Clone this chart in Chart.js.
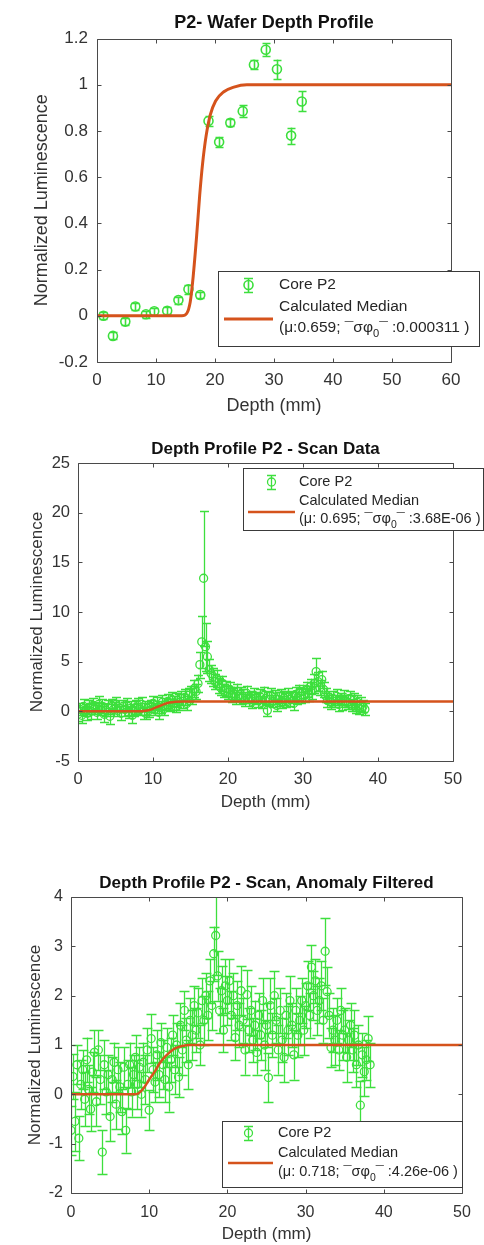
<!DOCTYPE html>
<html>
<head>
<meta charset="utf-8">
<script src="https://cdn.jsdelivr.net/npm/chart.js@4.4.1/dist/chart.umd.min.js"></script>
<style>
html,body{margin:0;padding:0;background:#fff;}
#wrap{position:relative;width:484px;height:1245px;overflow:hidden;background:#fff;}
canvas{position:absolute;left:0;}
</style>
</head>
<body>
<div id="wrap">
<canvas id="c1" width="484" height="420" style="top:0px"></canvas>
<canvas id="c2" width="484" height="400" style="top:420px"></canvas>
<canvas id="c3" width="484" height="425" style="top:820px"></canvas>
</div>
<script>
// ===== DATA: wafer profile (panel 1) =====
const DEPTH_WAFER = [1.1, 2.7, 4.8, 6.5, 8.3, 9.7, 11.9, 13.8, 15.5, 17.5, 18.9, 20.7, 22.6, 24.7, 26.6, 28.6, 30.5, 32.9, 34.7];
const LUM_WAFER   = [0.0, -0.087, -0.025, 0.04, 0.007, 0.02, 0.022, 0.068, 0.115, 0.09, 0.843, 0.752, 0.836, 0.886, 1.087, 1.152, 1.067, 0.78, 0.928];
const ERR_WAFER   = [0.015, 0.015, 0.015, 0.015, 0.015, 0.015, 0.015, 0.015, 0.02, 0.015, 0.02, 0.02, 0.015, 0.025, 0.02, 0.028, 0.042, 0.035, 0.043];
const FIT_X_WAFER = [0, 14.4, 15.2, 15.8, 16.3, 16.9, 17.4, 17.9, 18.5, 19.2, 20.1, 21.5, 23.2, 25.4, 28, 60];
const FIT_Y_WAFER = [0, 0, 0.01, 0.06, 0.17, 0.35, 0.52, 0.66, 0.78, 0.87, 0.93, 0.97, 0.99, 1.0, 1.0, 1.0];

// ===== DATA: scan depths (panels 2 and 3) =====
const DEPTH_SCAN = [0,0.25,0.5,0.75, 1,1.25,1.5,1.75, 2,2.25,2.5,2.75, 3,3.25,3.5,3.75, 4,4.25,4.5,4.75,
  5,5.25,5.5,5.75, 6,6.25,6.5,6.75, 7,7.25,7.5,7.75, 8,8.25,8.5,8.75, 9,9.25,9.5,9.75,
  10,10.25,10.5,10.75, 11,11.25,11.5,11.75, 12,12.25,12.5,12.75, 13,13.25,13.5,13.75, 14,14.25,14.5,14.75,
  15,15.25,15.5,15.75, 16,16.25,16.5,16.75, 17,17.25,17.5,17.75, 18,18.25,18.5,18.75, 19,19.25,19.5,19.75,
  20,20.25,20.5,20.75, 21,21.25,21.5,21.75, 22,22.25,22.5,22.75, 23,23.25,23.5,23.75, 24,24.25,24.5,24.75,
  25,25.25,25.5,25.75, 26,26.25,26.5,26.75, 27,27.25,27.5,27.75, 28,28.25,28.5,28.75, 29,29.25,29.5,29.75,
  30,30.25,30.5,30.75, 31,31.25,31.5,31.75, 32,32.25,32.5,32.75, 33,33.25,33.5,33.75, 34,34.25,34.5,34.75,
  35,35.25,35.5,35.75, 36,36.25,36.5,36.75, 37,37.25,37.5,37.75, 38,38.25];

// ===== DATA: scan data (panel 2) =====
const LUM_SCAN = [-0.3,0.2,-0.4,0.5, 0.1,-0.2,0.4,0.0, 0.6,0.3,-0.1,0.7, 0.2,0.5,-0.3,0.1, 0.4,-0.5,0.6,0.2,
  0.7,0.1,0.3,-0.2, 0.5,0.2,0.6,-0.1, 0.3,-0.4,0.1,0.4, 0.6,0.2,0.7,0.0, -0.2,0.3,0.1,0.5,
  0.8,0.2,0.6,-0.1, 0.4,0.9,0.3,0.7, 1.0,0.6,1.2,0.8, 0.5,1.1,0.9,1.3, 1.0,1.4,0.8,1.6,
  1.9,1.5,2.3,2.0, 2.8,4.7,7.0,13.4, 6.5,5.5,4.2,3.8, 3.5,3.0,3.3,2.6, 2.4,2.8,2.1,2.3,
  1.9,2.2,1.6,1.8, 1.4,2.0,1.3,1.7, 1.5,1.1,1.8,1.2, 1.4,1.0,1.6,1.3, 1.1,1.5,0.9,1.7,
  1.3,0.1,1.2,1.6, 1.0,1.4,0.6,1.2, 1.5,0.9,1.3,1.1, 1.6,1.2,1.4,0.8, 1.7,1.3,1.9,1.5,
  2.0,1.6,2.2,1.8, 2.5,2.1,2.8,4.0, 3.0,2.4,3.2,2.2, 1.6,1.1,1.4,0.9, 1.3,1.0,1.5,0.7,
  1.2,0.8,1.4,1.0, 0.9,1.3,0.6,1.1, 0.4,0.9,0.3,0.7, 0.5,0.2];
const ERR_SCAN = [0.7,0.6,0.8,0.7, 0.6,0.7,0.7,0.8, 0.7,0.6,0.7,0.8, 0.6,0.7,0.8,0.6, 0.7,0.8,0.6,0.7,
  0.7,0.6,0.8,0.7, 0.6,0.7,0.7,0.6, 0.7,0.8,0.6,0.7, 0.7,0.6,0.7,0.8, 0.6,0.7,0.7,0.6,
  0.7,0.6,0.8,0.7, 0.6,0.7,0.7,0.6, 0.7,0.6,0.7,0.7, 0.6,0.7,0.8,0.7, 0.7,0.8,0.7,0.7,
  0.7,0.8,0.9,0.8, 0.9,1.3,2.6,6.8, 2.4,1.6,1.1,0.9, 0.9,0.8,0.9,0.8, 0.8,0.8,0.7,0.8,
  0.7,0.8,0.7,0.7, 0.7,0.8,0.6,0.7, 0.7,0.6,0.8,0.7, 0.6,0.7,0.7,0.6, 0.7,0.7,0.6,0.8,
  0.7,0.6,0.7,0.7, 0.6,0.7,0.6,0.7, 0.7,0.6,0.7,0.7, 0.7,0.7,0.6,0.7, 0.7,0.6,0.8,0.7,
  0.7,0.7,0.8,0.8, 0.8,0.9,1.0,1.4, 1.0,0.8,0.9,0.8, 0.7,0.7,0.6,0.7, 0.7,0.6,0.7,0.7,
  0.6,0.7,0.7,0.6, 0.7,0.7,0.6,0.7, 0.6,0.7,0.6,0.7, 0.6,0.6];
const FIT_X_SCAN = [0, 8.3, 9.0, 9.8, 10.6, 11.4, 12.2, 13.0, 14.0, 50];
const FIT_Y_SCAN = [0, 0, 0.05, 0.2, 0.45, 0.7, 0.88, 0.97, 1.0, 1.0];

// ===== DATA: anomaly filtered (panel 3) =====
const LUM_FILT = [-0.73,0.36,-0.55,0.6, -0.89,0.2,0.5,-0.1, 0.7,0.1,-0.3,0.45, 0.85,-0.15,0.9,0.3, -1.17,0.6,0.05,0.4,
  -0.45,0.3,0.65,-0.2, 0.5,0.15,-0.35,0.55, -0.73,0.2,0.6,0.05, 0.4,0.75,0.2,0.55, 0.0,0.65,0.3,0.9,
  -0.32,1.13,0.5,0.25, 0.8,0.4,1.05,0.6, 0.3,0.95,0.15,0.7, 1.2,0.5,1.0,0.35, 1.4,0.9,1.7,1.1,
  0.6,1.5,1.2,1.8, 1.3,1.65,1.0,1.9, 1.5,2.0,1.6,2.3, 1.8,2.85,3.22,2.4, 1.7,2.1,1.3,2.2,
  1.9,2.3,1.6,2.0, 1.15,1.8,1.4,2.1, 1.5,0.9,2.02,1.3, 1.7,1.1,1.4,0.85, 1.6,1.2,1.9,1.0,
  1.4,0.34,1.8,1.2, 2.0,1.5,0.9,1.7, 1.1,0.75,1.6,1.3, 1.9,1.4,0.8,1.7, 1.2,1.5,1.9,1.3,
  1.8,2.2,1.6,2.58, 2.0,2.3,1.7,1.9, 2.2,1.5,2.9,2.08, 1.6,0.95,1.3,1.1, 1.5,0.9,1.7,1.2,
  1.3,0.75,1.1,1.4, 0.9,1.2,0.6,1.0, -0.22,0.8,0.46,0.7, 1.13,0.6];
const ERR_FILT = [0.5,0.45,0.6,0.4, 0.45,0.5,0.4,0.55, 0.45,0.5,0.45,0.4, 0.45,0.5,0.4,0.5, 0.45,0.5,0.45,0.4,
  0.5,0.45,0.4,0.5, 0.45,0.5,0.45,0.4, 0.45,0.5,0.45,0.5, 0.4,0.45,0.5,0.4, 0.45,0.4,0.5,0.45,
  0.4,0.5,0.45,0.4, 0.5,0.45,0.4,0.5, 0.45,0.4,0.5,0.45, 0.4,0.5,0.45,0.4, 0.45,0.5,0.4,0.45,
  0.5,0.45,0.5,0.4, 0.45,0.5,0.4,0.45, 0.5,0.45,0.5,0.45, 0.5,0.55,0.8,0.5, 0.45,0.5,0.45,0.55,
  0.5,0.45,0.5,0.45, 0.45,0.5,0.45,0.5, 0.45,0.5,0.5,0.45, 0.5,0.45,0.5,0.45, 0.45,0.5,0.45,0.5,
  0.45,0.5,0.55,0.45, 0.5,0.45,0.5,0.45, 0.45,0.5,0.45,0.5, 0.5,0.45,0.5,0.45, 0.45,0.5,0.45,0.5,
  0.45,0.5,0.45,0.45, 0.5,0.45,0.5,0.45, 0.5,0.45,0.68,0.5, 0.45,0.4,0.45,0.5, 0.45,0.4,0.45,0.5,
  0.45,0.5,0.4,0.45, 0.45,0.5,0.45,0.4, 0.5,0.45,0.5,0.4, 0.45,0.45];
const FIT_X_FILT = [0, 8.2, 8.8, 9.4, 10.0, 10.7, 11.3, 12.0, 12.7, 13.3, 14.2, 15.2, 50];
const FIT_Y_FILT = [0, 0, 0.04, 0.15, 0.3, 0.46, 0.62, 0.76, 0.86, 0.93, 0.98, 1.0, 1.0];

// ===== TICKS =====
const X_TICKS_60 = [0, 10, 20, 30, 40, 50, 60];
const X_LABELS_60 = ['0', '10', '20', '30', '40', '50', '60'];
const X_TICKS_50 = [0, 10, 20, 30, 40, 50];
const X_LABELS_50 = ['0', '10', '20', '30', '40', '50'];
const Y_TICKS_1 = [-0.2, 0, 0.2, 0.4, 0.6, 0.8, 1, 1.2];
const Y_LABELS_1 = ['-0.2', '0', '0.2', '0.4', '0.6', '0.8', '1', '1.2'];
const Y_TICKS_2 = [-5, 0, 5, 10, 15, 20, 25];
const Y_LABELS_2 = ['-5', '0', '5', '10', '15', '20', '25'];
const Y_TICKS_3 = [-2, -1, 0, 1, 2, 3, 4];
const Y_LABELS_3 = ['-2', '-1', '0', '1', '2', '3', '4'];

// ===== TEXT =====
const SERIES_NAMES = ['Core P2', 'Calculated Median'];
const STATS_1 = ['(\u03bc:0.659; ', '\u00af\u03c3\u03c6', '0', '\u00af :0.000311 )'];
const STATS_2 = ['(\u03bc: 0.695; ', '\u00af\u03c3\u03c6', '0', '\u00af :3.68E-06 )'];
const STATS_3 = ['(\u03bc: 0.718; ', '\u00af\u03c3\u03c6', '0', '\u00af :4.26e-06 )'];

const GREEN = '#3ddf3d';
const RED = '#d5531c';
const FONT = '"Liberation Sans", Arial, Helvetica, sans-serif';
Chart.defaults.font.family = FONT;

// ===== ERROR BARS =====
function drawErrorBars(chart, p){
    const {ctx, chartArea:a, scales:{x, y}} = chart;
    ctx.save();
    ctx.beginPath();
    ctx.rect(a.left, a.top, a.right - a.left, a.bottom - a.top);
    ctx.clip();
    ctx.strokeStyle = GREEN;
    ctx.lineWidth = p.pw;
    ctx.beginPath();
    p.depth.forEach((d,i)=>{
        const px = Math.round(x.getPixelForValue(d)) + 0.5;
        const y0 = y.getPixelForValue(p.lum[i] - p.err[i]);
        const y1 = y.getPixelForValue(p.lum[i] + p.err[i]);
        ctx.moveTo(px, y0); ctx.lineTo(px, y1);
        ctx.moveTo(px - p.cap, Math.round(y0) + 0.5); ctx.lineTo(px + p.cap, Math.round(y0) + 0.5);
        ctx.moveTo(px - p.cap, Math.round(y1) + 0.5); ctx.lineTo(px + p.cap, Math.round(y1) + 0.5);
    });
    ctx.stroke();
    ctx.restore();
}

// ===== AXES BOX WITH INNER TICKS =====
function drawBox(chart){
    const {ctx, chartArea:a, scales:{x, y}} = chart;
    const L = Math.round(a.left) + 0.5, R = Math.round(a.right) + 0.5;
    const T = Math.round(a.top) + 0.5, B = Math.round(a.bottom) + 0.5;
    ctx.save();
    ctx.strokeStyle = '#4a4a4a';
    ctx.lineWidth = 1;
    ctx.beginPath();
    ctx.rect(L, T, R - L, B - T);
    x.ticks.forEach(t=>{
        const px = Math.round(x.getPixelForValue(t.value)) + 0.5;
        ctx.moveTo(px, B); ctx.lineTo(px, B - 4);
        ctx.moveTo(px, T); ctx.lineTo(px, T + 4);
    });
    y.ticks.forEach(t=>{
        const py = Math.round(y.getPixelForValue(t.value)) + 0.5;
        ctx.moveTo(L, py); ctx.lineTo(L + 4, py);
        ctx.moveTo(R, py); ctx.lineTo(R - 4, py);
    });
    ctx.stroke();
    ctx.restore();
}

// ===== LEGEND =====
function drawLegend(chart, p){
    const ctx = chart.ctx;
    const g = p.legend;
    ctx.save();
    ctx.fillStyle = '#fff';
    ctx.fillRect(g.x, g.y, g.w, g.h);
    ctx.strokeStyle = '#3a3a3a';
    ctx.lineWidth = 1;
    ctx.strokeRect(g.x + 0.5, g.y + 0.5, g.w - 1, g.h - 1);

    // marker with error bar
    ctx.strokeStyle = GREEN;
    ctx.lineWidth = p.pw;
    ctx.beginPath();
    ctx.moveTo(g.symX + 0.5, g.rows[0] - 7); ctx.lineTo(g.symX + 0.5, g.rows[0] + 7);
    ctx.moveTo(g.symX - 4, g.rows[0] - 6.5); ctx.lineTo(g.symX + 5, g.rows[0] - 6.5);
    ctx.moveTo(g.symX - 4, g.rows[0] + 7.5); ctx.lineTo(g.symX + 5, g.rows[0] + 7.5);
    ctx.stroke();
    ctx.beginPath();
    ctx.arc(g.symX + 0.5, g.rows[0], p.r, 0, Math.PI*2);
    ctx.stroke();

    // red line sample
    ctx.strokeStyle = RED;
    ctx.lineWidth = p.lw;
    ctx.beginPath();
    ctx.moveTo(g.lineX0, g.lineY); ctx.lineTo(g.lineX1, g.lineY);
    ctx.stroke();

    // labels
    ctx.fillStyle = '#262626';
    ctx.textBaseline = 'middle';
    ctx.textAlign = 'left';
    ctx.font = g.font + 'px ' + FONT;
    ctx.fillText(SERIES_NAMES[0], g.textX, g.rows[0]);
    ctx.fillText(SERIES_NAMES[1], g.textX, g.rows[1]);

    let tx = g.textX;
    const s = p.stats;
    ctx.fillText(s[0], tx, g.rows[2]); tx += ctx.measureText(s[0]).width;
    ctx.fillText(s[1], tx, g.rows[2]); tx += ctx.measureText(s[1]).width;
    ctx.font = (g.font*0.72) + 'px ' + FONT;
    ctx.fillText(s[2], tx, g.rows[2] + g.font*0.4); tx += ctx.measureText(s[2]).width;
    ctx.font = g.font + 'px ' + FONT;
    ctx.fillText(s[3], tx, g.rows[2]);
    ctx.restore();
}

// ===== BUILD ONE PANEL =====
function makeChart(id, p){
    const pts = p.depth.map((d,i)=>({x:d, y:p.lum[i]}));
    const fit = p.fitX.map((d,i)=>({x:d, y:p.fitY[i]}));
    const frame = {
        id: 'frame_' + id,
        beforeDatasetsDraw(chart){ drawErrorBars(chart, p); },
        afterDatasetsDraw(chart){ drawBox(chart); },
        afterDraw(chart){ drawLegend(chart, p); }
    };
    return new Chart(document.getElementById(id), {
        type: 'scatter',
        data: {datasets: [
            {label: SERIES_NAMES[1], data: fit, showLine: true, borderColor: RED, borderWidth: p.lw,
             pointRadius: 0, cubicInterpolationMode: 'monotone', order: 0},
            {label: SERIES_NAMES[0], data: pts, pointStyle: 'circle', pointRadius: p.r,
             borderColor: GREEN, backgroundColor: 'rgba(0,0,0,0)', borderWidth: p.pw, order: 1}
        ]},
        options: {
            responsive: false, animation: false, events: [],
            layout: {padding: {top: 0, left: 0, bottom: 0, right: p.padR}},
            plugins: {
                legend: {display: false},
                tooltip: {enabled: false},
                title: {display: true, text: p.title, fullSize: false, color: '#111',
                        font: {size: p.titleSize, weight: 'bold'},
                        padding: {top: p.titlePadT, bottom: p.titlePadB}}
            },
            scales: {
                x: {
                    type: 'linear', min: p.xTicks[0], max: p.xTicks[p.xTicks.length-1],
                    afterBuildTicks: s=>{ s.ticks = p.xTicks.map(v=>({value:v})); },
                    afterFit: s=>{ s.height = p.xH; },
                    grid: {display: false, drawTicks: false},
                    border: {display: false},
                    ticks: {padding: p.xTickPad, color: '#333', autoSkip: false, maxRotation: 0,
                            font: {size: p.tickSize}, callback: (v,i)=>p.xLabels[i]},
                    title: {display: true, text: 'Depth (mm)', color: '#333',
                            font: {size: p.labelSize}, padding: {top: 0, bottom: p.xTitlePadB}}
                },
                y: {
                    type: 'linear', min: p.yTicks[0], max: p.yTicks[p.yTicks.length-1],
                    afterBuildTicks: s=>{ s.ticks = p.yTicks.map(v=>({value:v})); },
                    afterFit: s=>{ s.width = p.yW; },
                    grid: {display: false, drawTicks: false},
                    border: {display: false},
                    ticks: {padding: p.yTickPad, color: '#333', autoSkip: false,
                            font: {size: p.tickSize}, callback: (v,i)=>p.yLabels[i]},
                    title: {display: true, text: 'Normalized Luminescence', color: '#333',
                            font: {size: p.labelSize}, padding: {top: p.yTitlePadT, bottom: 0}}
                }
            }
        },
        plugins: [frame]
    });
}

// ===== PANELS =====
makeChart('c1', {
    title: 'P2- Wafer Depth Profile',
    depth: DEPTH_WAFER, lum: LUM_WAFER, err: ERR_WAFER, fitX: FIT_X_WAFER, fitY: FIT_Y_WAFER,
    xTicks: X_TICKS_60, xLabels: X_LABELS_60, yTicks: Y_TICKS_1, yLabels: Y_LABELS_1,
    stats: STATS_1, r: 4.5, cap: 4, lw: 3, pw: 1.6,
    padR: 33, titleSize: 18, titlePadT: 12, titlePadB: 5,
    yW: 97, yTitlePadT: 31, yTickPad: 9, xH: 58, xTickPad: 8, xTitlePadB: 3,
    tickSize: 17, labelSize: 18,
    legend: {x: 218, y: 271, w: 262, h: 76, symX: 248, rows: [285, 307, 328],
             textX: 279, lineX0: 224, lineX1: 273, lineY: 319, font: 15.5}
});

makeChart('c2', {
    title: 'Depth Profile P2 - Scan Data',
    depth: DEPTH_SCAN, lum: LUM_SCAN, err: ERR_SCAN, fitX: FIT_X_SCAN, fitY: FIT_Y_SCAN,
    xTicks: X_TICKS_50, xLabels: X_LABELS_50, yTicks: Y_TICKS_2, yLabels: Y_LABELS_2,
    stats: STATS_2, r: 4, cap: 4.5, lw: 2.5, pw: 1.3,
    padR: 31, titleSize: 17, titlePadT: 19, titlePadB: 3.6,
    yW: 78, yTitlePadT: 27, yTickPad: 8, xH: 59, xTickPad: 9, xTitlePadB: 7,
    tickSize: 16.5, labelSize: 17,
    legend: {x: 243, y: 48, w: 241, h: 63, symX: 271, rows: [62, 81, 99],
             textX: 299, lineX0: 248, lineX1: 295, lineY: 92, font: 14.5}
});

makeChart('c3', {
    title: 'Depth Profile P2 - Scan, Anomaly Filtered',
    depth: DEPTH_SCAN, lum: LUM_FILT, err: ERR_FILT, fitX: FIT_X_FILT, fitY: FIT_Y_FILT,
    xTicks: X_TICKS_50, xLabels: X_LABELS_50, yTicks: Y_TICKS_3, yLabels: Y_LABELS_3,
    stats: STATS_3, r: 4, cap: 5, lw: 2.5, pw: 1.3,
    padR: 22, titleSize: 17, titlePadT: 53, titlePadB: 3.6,
    yW: 71, yTitlePadT: 25, yTickPad: 8, xH: 52, xTickPad: 10, xTitlePadB: 0,
    tickSize: 16, labelSize: 17,
    legend: {x: 222, y: 301, w: 241, h: 67, symX: 248, rows: [313, 333, 352],
             textX: 278, lineX0: 228, lineX1: 273, lineY: 343, font: 14.5}
});
</script>
</body>
</html>
